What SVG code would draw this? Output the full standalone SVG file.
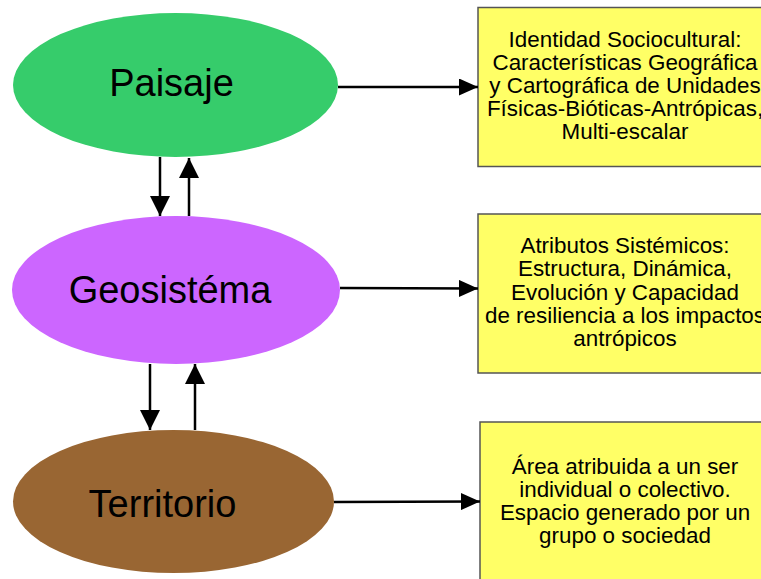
<svg xmlns="http://www.w3.org/2000/svg" width="761" height="579" viewBox="0 0 761 579">
<style>
.lbl{font-family:"Liberation Sans",Arial,sans-serif;font-size:38px;fill:#000;text-anchor:middle}
.box{fill:#ffff66;stroke:#555;stroke-width:1.5}
.bt{font-family:"Liberation Sans",Arial,sans-serif;font-size:22.4px;fill:#000;text-anchor:middle}
.con{stroke:#000;stroke-width:2.5;fill:none}
</style>
<defs>
<marker id="av" markerUnits="userSpaceOnUse" markerWidth="20" markerHeight="20" refX="20" refY="10" orient="auto" viewBox="0 0 20 20">
<path d="M0,0 L20,10 L0,20 z" fill="#000"/>
</marker>
<marker id="ah" markerUnits="userSpaceOnUse" markerWidth="19" markerHeight="17" refX="19" refY="8.5" orient="auto" viewBox="0 0 19 17">
<path d="M0,0 L19,8.5 L0,17 z" fill="#000"/>
</marker>
</defs>
<g id="paisaje">
<ellipse cx="175.5" cy="85" rx="162.5" ry="72" fill="#36cc6b"/>
<text class="lbl" x="171.5" y="96">Paisaje</text>
</g>
<g id="geosistema">
<ellipse cx="176" cy="290" rx="164" ry="74" fill="#cc66ff"/>
<text class="lbl" x="170" y="303">Geosistéma</text>
</g>
<g id="territorio">
<ellipse cx="173.5" cy="501.5" rx="160.5" ry="71.5" fill="#996633"/>
<text class="lbl" x="162.5" y="517">Territorio</text>
</g>
<g id="box1">
<rect class="box" x="478" y="7.5" width="294" height="159"/>
<text class="bt" x="625" y="47">Identidad Sociocultural:</text>
<text class="bt" x="625" y="70">Características Geográfica</text>
<text class="bt" x="625" y="93">y Cartográfica de Unidades</text>
<text class="bt" x="625" y="116">Físicas-Bióticas-Antrópicas,</text>
<text class="bt" x="625" y="139">Multi-escalar</text>
</g>
<g id="box2">
<rect class="box" x="478" y="214" width="294" height="159"/>
<text class="bt" x="625" y="253">Atributos Sistémicos:</text>
<text class="bt" x="625" y="276">Estructura, Dinámica,</text>
<text class="bt" x="625" y="300">Evolución y Capacidad</text>
<text class="bt" x="625" y="323">de resiliencia a los impactos</text>
<text class="bt" x="625" y="346">antrópicos</text>
</g>
<g id="box3">
<rect class="box" x="480" y="422" width="294" height="170"/>
<text class="bt" x="625" y="474">Área atribuida a un ser</text>
<text class="bt" x="625" y="497">individual o colectivo.</text>
<text class="bt" x="625" y="520">Espacio generado por un</text>
<text class="bt" x="625" y="543">grupo o sociedad</text>
</g>
<g id="connectors">
<line class="con" x1="338" y1="87" x2="478" y2="87" marker-end="url(#ah)"/>
<line class="con" x1="340" y1="288" x2="478" y2="288.5" marker-end="url(#ah)"/>
<line class="con" x1="334" y1="502" x2="480" y2="501.5" marker-end="url(#ah)"/>
<line class="con" x1="160" y1="157" x2="160" y2="216" marker-end="url(#av)"/>
<line class="con" x1="189" y1="216" x2="189" y2="158" marker-end="url(#av)"/>
<line class="con" x1="150" y1="364" x2="150" y2="430" marker-end="url(#av)"/>
<line class="con" x1="195" y1="430" x2="195" y2="364" marker-end="url(#av)"/>
</g>
</svg>
